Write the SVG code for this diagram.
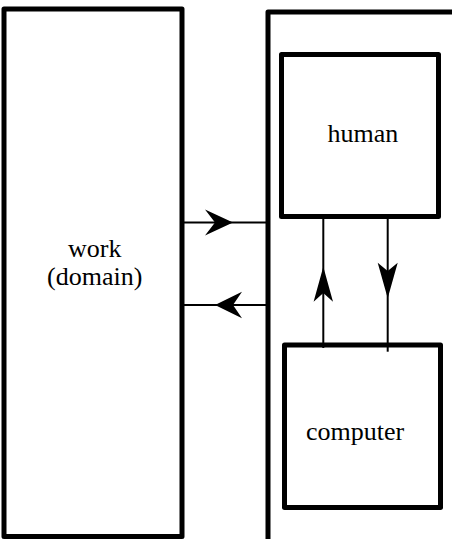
<svg xmlns="http://www.w3.org/2000/svg" width="452" height="539" viewBox="0 0 452 539">
<style>
.box{fill:none;stroke:#000;stroke-width:5;stroke-linejoin:round}
.ln{fill:none;stroke:#000;stroke-width:2}
.hd{fill:#000;stroke:none}
.t{font-family:'Liberation Serif',serif;font-size:26px;fill:#000;text-anchor:middle}
</style>
<g id="work">
<rect class="box" x="4" y="9" width="178" height="527.5"/>
<text class="t" x="94.7" y="256.7">work</text>
<text class="t" x="94.7" y="285">(domain)</text>
</g>
<g id="system">
<rect class="box" x="268" y="12" width="200" height="540"/>
</g>
<g id="human">
<rect class="box" x="281.5" y="54.5" width="157" height="162"/>
<text class="t" x="363" y="142.3">human</text>
</g>
<g id="computer">
<rect class="box" x="284.5" y="345" width="156" height="162.5"/>
<text class="t" x="355" y="440">computer</text>
</g>
<g id="connectors">
<line class="ln" x1="183" y1="222.5" x2="266" y2="222.5"/>
<path class="hd" d="M233,222.5 L205,209.5 L215,222.5 L205,235.5 Z"/>
<line class="ln" x1="183" y1="305" x2="266" y2="305"/>
<path class="hd" d="M215,305 L242,291.7 L233,305 L242,318.3 Z"/>
<line class="ln" x1="323.3" y1="216" x2="323.3" y2="348"/>
<path class="hd" d="M323.3,266.7 L313.6,301.7 L323.3,293 L333,301.7 Z"/>
<line class="ln" x1="387.7" y1="216" x2="387.7" y2="351.7"/>
<path class="hd" d="M387.7,298.3 L377.7,262.7 L387.7,271 L397.7,262.7 Z"/>
</g>
</svg>
